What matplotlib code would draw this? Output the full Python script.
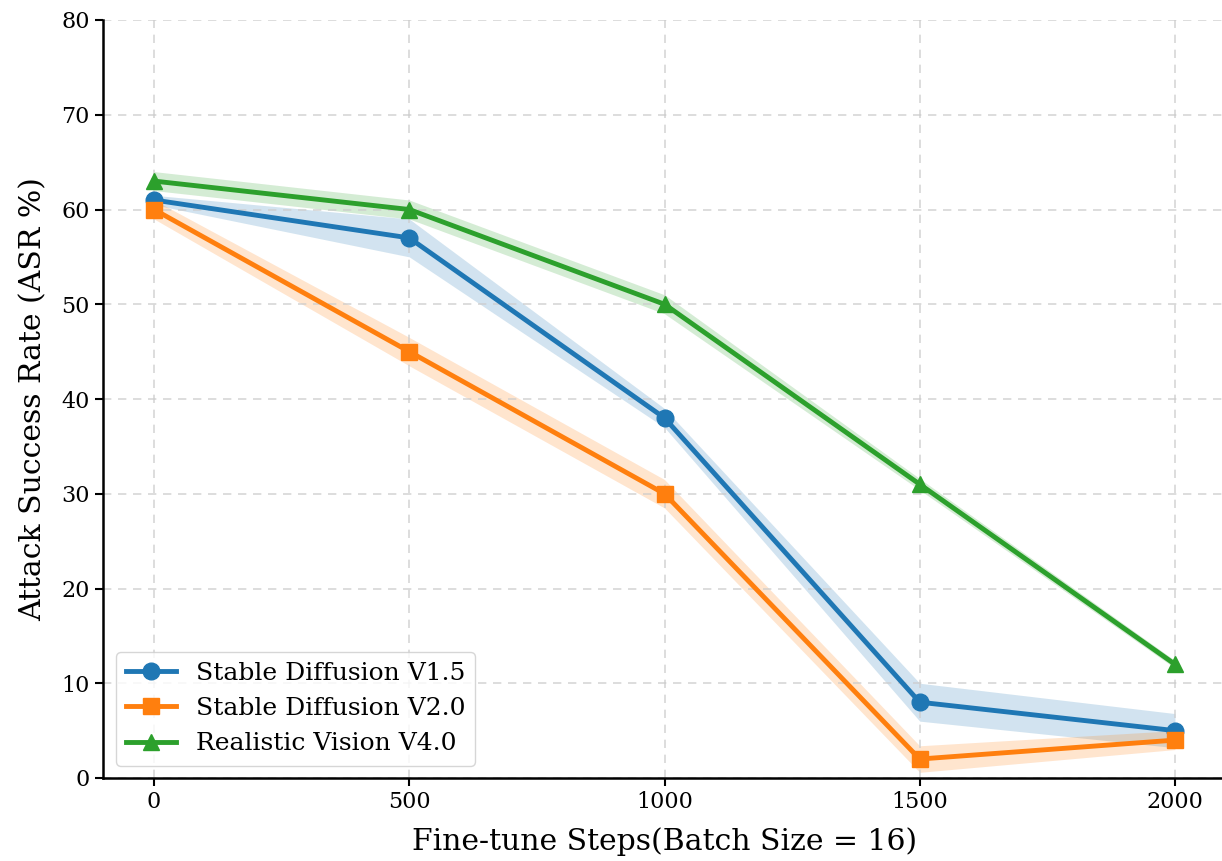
import matplotlib
matplotlib.use("Agg")
import matplotlib.pyplot as plt
import numpy as np

steps = [0, 500, 1000, 1500, 2000]
labels = ["Stable Diffusion V1.5", "Stable Diffusion V2.0", "Realistic Vision V4.0"]
sd15 = [61, 57, 38, 8, 5]
sd15_err = [0.5, 2.0, 1.0, 2.0, 1.8]
sd20 = [60, 45, 30, 2, 4]
sd20_err = [1.0, 1.5, 1.5, 1.4, 1.0]
rv40 = [63, 60, 50, 31, 12]
rv40_err = [1.0, 1.0, 1.0, 0.6, 0.4]

plt.rcParams['font.family'] = ['DejaVu Serif']

fig = plt.figure(figsize=(12.22, 8.61), dpi=100)
ax = fig.add_axes([103/1222, 83/861, 1123/1222, 758/861])

colors = ['#1f77b4', '#ff7f0e', '#2ca02c']
markers = ['o', 's', '^']
series = [(sd15, sd15_err), (sd20, sd20_err), (rv40, rv40_err)]
for (vals, err), c, m, lab in zip(series, colors, markers, labels):
    v = np.array(vals, float)
    e = np.array(err, float)
    ax.fill_between(steps, v - e, v + e, color=c, alpha=0.2, linewidth=0)
    ax.plot(steps, v, color=c, marker=m, lw=3.5, markersize=12, label=lab)

ax.set_xlim(-100, 2100)
ax.set_ylim(0, 80)
ax.set_xticks(steps)
ax.set_yticks(range(0, 81, 10))
ax.tick_params(labelsize=16, width=1.5, length=6)
ax.set_xlabel("Fine-tune Steps(Batch Size = 16)", fontsize=21.5, labelpad=10)
ax.set_ylabel("Attack Success Rate (ASR %)", fontsize=21.5, labelpad=10)
ax.grid(True, linestyle=(0, (5, 4)), color='#cccccc', linewidth=1.2, alpha=0.8)
ax.spines['top'].set_visible(False)
ax.spines['right'].set_visible(False)
ax.spines['left'].set_linewidth(1.8)
ax.spines['bottom'].set_linewidth(1.8)
ax.legend(loc='lower left', fontsize=18, framealpha=0.8, handlelength=2.0)

fig.savefig("out.png", dpi=100)
